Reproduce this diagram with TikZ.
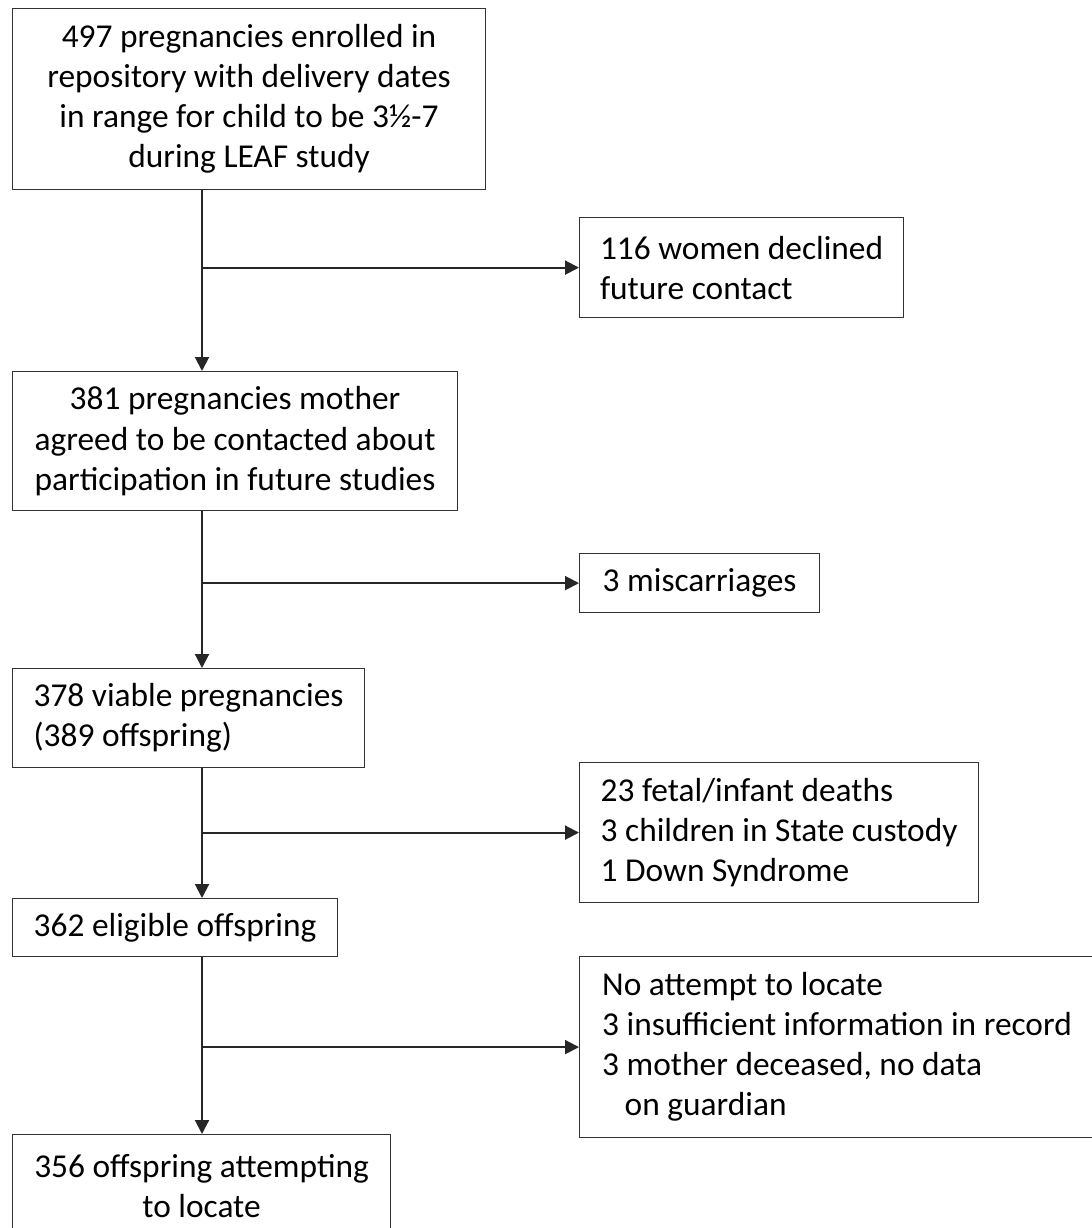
\documentclass[tikz,border=0pt]{standalone}
\usepackage{fontspec}
\setmainfont{Carlito}
\usetikzlibrary{positioning, arrows.meta}

\begin{document}
\begin{tikzpicture}[
        x=0.02cm, y=-0.02cm,
        box/.style={rectangle, draw=black!80, line width=0.7pt, inner xsep=0.38cm, inner ysep=0pt, anchor=north west, font=\fontsize{19}{22.8}\selectfont},
        mainbox/.style={box, align=center},
        sidebox/.style={box, align=left},
        arrow/.style={-{Triangle[length=0.28cm, width=0.28cm]}, line width=1.15pt, black!85}
    ]

        \useasboundingbox (0,0) rectangle (1092,1228);

        % Define nodes
        \node (enrolled) [mainbox, minimum width=9.46cm, minimum height=3.62cm] at (12,8) {497 pregnancies enrolled in\\ repository with delivery dates\\ in range for child to be 3½-7\\ during LEAF study};
        \node (declined) [sidebox, minimum width=6.48cm, minimum height=2.0cm] at (579,217) {116 women declined\\ future contact};
        \node (agreed) [mainbox, minimum width=8.9cm, minimum height=2.78cm] at (12,371) {381 pregnancies mother\\ agreed to be contacted about\\ participation in future studies};
        \node (miscarriage) [sidebox, minimum width=4.8cm, minimum height=1.18cm] at (579,553) {3 miscarriages};
        \node (viable) [sidebox, minimum width=7.04cm, minimum height=1.98cm] at (12,668) {378 viable pregnancies\\ (389 offspring)};
        \node (excluded) [sidebox, minimum width=7.98cm, minimum height=2.8cm] at (579,762) {23 fetal/infant deaths\\ 3 children in State custody\\ 1 Down Syndrome};
        \node (eligible) [sidebox, minimum width=6.5cm, minimum height=1.16cm] at (12,898) {362 eligible offspring};
        \node (nolocate) [sidebox, minimum width=10.3cm, minimum height=3.62cm] at (579,956) {No attempt to locate\\ 3 insufficient information in record\\ 3 mother deceased, no data\\ \hspace*{0.45cm}on guardian};
        \node (locate) [mainbox, minimum width=7.56cm, minimum height=2.04cm] at (12,1134) {356 offspring attempting\\ to locate};

        \coordinate (spine) at (202,0);

        % Draw arrows
        \draw [arrow] (enrolled.south -| spine) -- (agreed.north -| spine);
        \draw [arrow] (declined.west -| spine) -- (declined.west);
        \draw [arrow] (agreed.south -| spine) -- (viable.north -| spine);
        \draw [arrow] (miscarriage.west -| spine) -- (miscarriage.west);
        \draw [arrow] (viable.south -| spine) -- (eligible.north -| spine);
        \draw [arrow] (excluded.west -| spine) -- (excluded.west);
        \draw [arrow] (eligible.south -| spine) -- (locate.north -| spine);
        \draw [arrow] (nolocate.west -| spine) -- (nolocate.west);
    \end{tikzpicture}
\end{document}
